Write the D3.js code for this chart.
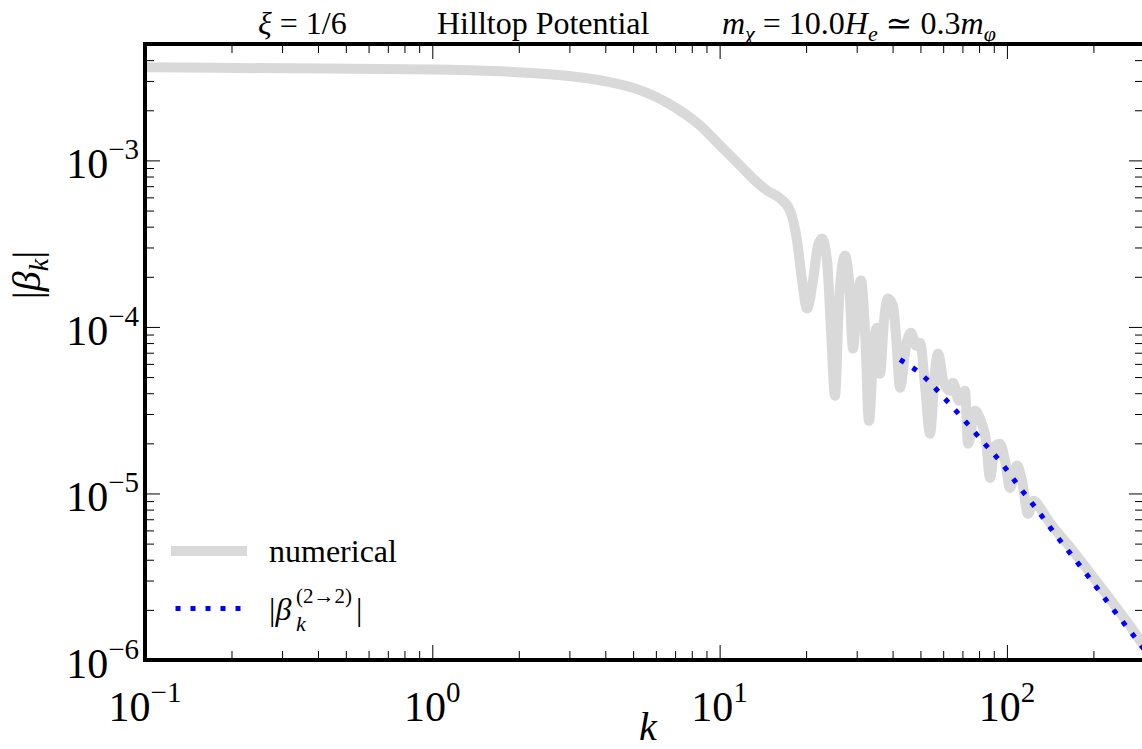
<!DOCTYPE html>
<html><head><meta charset="utf-8">
<script src="https://cdn.jsdelivr.net/npm/d3@7"></script>
<style>
body{margin:0;background:#fff}
svg{display:block}
text{font-family:"Liberation Serif","DejaVu Serif",serif;fill:#000}
</style>
</head><body>
<svg id="c" width="1142" height="749"></svg>
<script>
// numerical |beta_k| (grey)
const numK = [0.1,0.32,1.0,1.72,2.57,3.83,5.28,6.72,8.55,10.03,11.78,13.28,14.62,16.23,17.58,18.60,19.36,20.15,21.14,22.00,22.72,23.65,24.42,25.22,26.04,27.32,28.21,29.13,30.08,31.06,32.07,33.11,34.46,35.30,36.16,37.34,38.56,40.14,41.11,42.45,44.55,46.37,48.27,49.84,51.88,54.00,56.20,57.58,60.41,63.39,64.92,68.13,71.48,73.22,77.45,80.62,84.58,87.34,90.90,94.62,98.49,102.5,108.4,112.9,118.4,124.3,130.4,141.3,165.8,194.7,228.5,268.3,300];
const numBeta = [3.62e-3,3.57e-3,3.52e-3,3.43e-3,3.29e-3,3.03e-3,2.64e-3,2.17e-3,1.62e-3,1.23e-3,9.33e-4,7.58e-4,6.60e-4,5.91e-4,5.00e-4,3.30e-4,1.90e-4,1.29e-4,1.90e-4,3.08e-4,3.40e-4,2.50e-4,9.50e-5,3.86e-5,1.44e-4,2.68e-4,1.90e-4,7.41e-5,1.44e-4,1.90e-4,9.50e-5,2.73e-5,8.27e-5,9.90e-5,5.24e-5,1.09e-4,1.48e-4,1.34e-4,8.86e-5,4.32e-5,7.72e-5,9.24e-5,7.72e-5,8.04e-5,4.44e-5,2.28e-5,5.46e-5,6.91e-5,4.56e-5,4.14e-5,4.63e-5,3.60e-5,4.14e-5,1.99e-5,3.14e-5,2.81e-5,2.07e-5,1.24e-5,1.93e-5,1.99e-5,1.57e-5,1.08e-5,1.47e-5,1.19e-5,7.54e-6,9.03e-6,8.19e-6,6.65e-6,4.77e-6,3.33e-6,2.32e-6,1.60e-6,1.21e-6];
// analytic |beta_k^(2->2)| (blue dotted)
const fitK = [42.45,51.05,59.94,70.35,82.56,96.16,110.2,127.4,147.0,169.9,196.2,226.6,281.4,300];
const fitBeta = [6.36e-5,5.09e-5,3.81e-5,2.81e-5,2.04e-5,1.51e-5,1.10e-5,7.97e-6,5.71e-6,4.16e-6,3.02e-6,2.17e-6,1.34e-6,1.16e-6];

const xMajor = [0.1,1,10,100];
const xMajorExp = ["\u22121","0","1","2"];
const yMajor = [1e-6,1e-5,1e-4,1e-3];
const yMajorExp = ["\u22126","\u22125","\u22124","\u22123"];
const seriesNames = ["numerical","beta22"];

const L=145, R=1144, T=44, B=660;
const svg = d3.select("#c");
const x = d3.scaleLog().domain([0.1,300]).range([L,R]);
const y = d3.scaleLog().domain([1e-6,5e-3]).range([B,T]);

const xMinor=[], yMinor=[];
[0.1,1,10,100].forEach(d=>{for(let m=2;m<=9;m++){const v=d*m; if(v<300) xMinor.push(v);}});
[1e-6,1e-5,1e-4,1e-3].forEach(d=>{for(let m=2;m<=9;m++){const v=d*m; if(v<5e-3) yMinor.push(v);}});

svg.append("defs").append("clipPath").attr("id","clip").append("rect")
  .attr("x",L).attr("y",T).attr("width",R-L).attr("height",B-T);

const line = d3.line().x(d=>x(d[0])).y(d=>y(d[1])).curve(d3.curveMonotoneX);
const plot = svg.append("g").attr("clip-path","url(#clip)");
plot.append("path").datum(numK.map((k,i)=>[k,numBeta[i]]))
  .attr("d",line).attr("fill","none").attr("stroke","#d9d9d9")
  .attr("stroke-width",10).attr("stroke-linejoin","round");
plot.append("path").datum(fitK.map((k,i)=>[k,fitBeta[i]]))
  .attr("d",line).attr("fill","none").attr("stroke","#0000ff")
  .attr("stroke-width",5).attr("stroke-dasharray","5,10");

// ticks (inward, all sides)
function ticks(axisFn, scale, vals, size, tr){
  const g = svg.append("g").attr("transform",tr)
    .call(axisFn(scale).tickValues(vals).tickSize(-size).tickFormat(""));
  g.select(".domain").remove();
  g.selectAll("line").attr("stroke","#000").attr("stroke-width",1);
}
ticks(d3.axisBottom,x,xMajor,15,`translate(0,${B})`);
ticks(d3.axisBottom,x,xMinor,9,`translate(0,${B})`);
ticks(d3.axisTop,x,xMajor,15,`translate(0,${T})`);
ticks(d3.axisTop,x,xMinor,9,`translate(0,${T})`);
ticks(d3.axisLeft,y,yMajor,15,`translate(${L},0)`);
ticks(d3.axisLeft,y,yMinor,9,`translate(${L},0)`);
ticks(d3.axisRight,y,yMajor,15,`translate(${R},0)`);
ticks(d3.axisRight,y,yMinor,9,`translate(${R},0)`);

svg.append("rect").attr("x",L).attr("y",T).attr("width",R-L).attr("height",B-T)
  .attr("fill","none").attr("stroke","#000").attr("stroke-width",4);

// tick labels
xMajor.forEach((v,i)=>{
  const t = svg.append("text").attr("x",x(v)).attr("y",721).attr("text-anchor","middle").attr("font-size",42);
  t.append("tspan").text("10");
  t.append("tspan").attr("font-size",29).attr("dy",-19).text(xMajorExp[i]);
});
yMajor.forEach((v,i)=>{
  const t = svg.append("text").attr("x",139).attr("y",y(v)+18).attr("text-anchor","end").attr("font-size",42);
  t.append("tspan").text("10");
  t.append("tspan").attr("font-size",29).attr("dy",-19).text(yMajorExp[i]);
});

// axis labels
svg.append("text").attr("x",648).attr("y",740).attr("text-anchor","middle")
  .attr("font-size",40).attr("font-style","italic").text("k");
const yl = svg.append("text").attr("transform","translate(40,275) rotate(-90)")
  .attr("text-anchor","middle").attr("font-size",40);
yl.append("tspan").text("|");
yl.append("tspan").attr("font-style","italic").text("β");
yl.append("tspan").attr("font-style","italic").attr("font-size",28).attr("dy",8).text("k");
yl.append("tspan").attr("dy",-8).text("|");

// title
const t1 = svg.append("text").attr("x",258).attr("y",34).attr("font-size",32);
t1.append("tspan").attr("font-style","italic").text("ξ");
t1.append("tspan").text(" = 1/6");
svg.append("text").attr("x",437).attr("y",34).attr("font-size",32).text("Hilltop Potential");
const t3 = svg.append("text").attr("x",722).attr("y",34).attr("font-size",32);
t3.append("tspan").attr("font-style","italic").text("m");
t3.append("tspan").attr("font-style","italic").attr("font-size",22).attr("dy",7).text("χ");
t3.append("tspan").attr("dy",-7).text(" = 10.0");
t3.append("tspan").attr("font-style","italic").text("H");
t3.append("tspan").attr("font-style","italic").attr("font-size",22).attr("dy",7).text("e");
t3.append("tspan").attr("dy",-7).text(" ≃ 0.3");
t3.append("tspan").attr("font-style","italic").text("m");
t3.append("tspan").attr("font-style","italic").attr("font-size",22).attr("dy",7).text("φ");

// legend
const lg = svg.append("g");
lg.append("line").attr("x1",171).attr("x2",247).attr("y1",551).attr("y2",551)
  .attr("stroke","#d9d9d9").attr("stroke-width",10);
lg.append("text").attr("x",269).attr("y",562).attr("font-size",32).text(seriesNames[0]);
lg.append("line").attr("x1",175.5).attr("x2",241).attr("y1",608.5).attr("y2",608.5)
  .attr("stroke","#0000ff").attr("stroke-width",5).attr("stroke-dasharray","5,10");
const lt = lg.append("text").attr("x",269).attr("y",620).attr("font-size",32);
lt.append("tspan").text("|");
lt.append("tspan").attr("font-style","italic").text("β");
lg.append("text").attr("x",296).attr("y",603).attr("font-size",21).text("(2→2)");
lg.append("text").attr("x",296).attr("y",631).attr("font-size",22).attr("font-style","italic").text("k");
lg.append("text").attr("x",356).attr("y",620).attr("font-size",32).text("|");
</script>
</body></html>
